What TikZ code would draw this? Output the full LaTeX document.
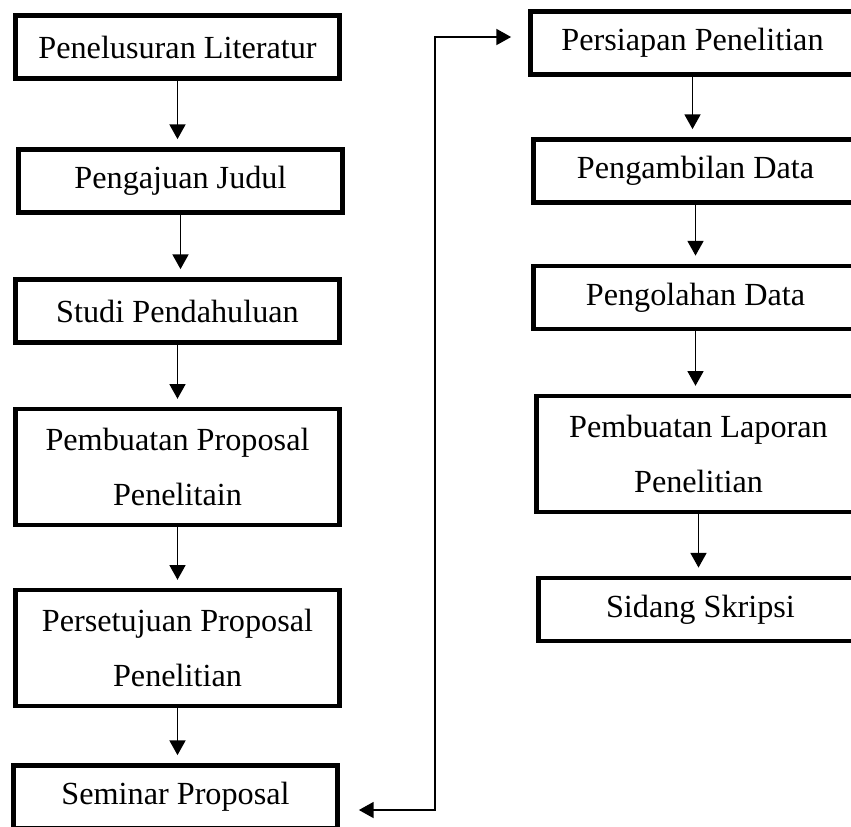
\documentclass[tikz,border=0pt]{standalone}
\usepackage{fontspec}
\setmainfont{Liberation Serif}
\usetikzlibrary{arrows.meta}

\begin{document}
\begin{tikzpicture}[x=0.03cm,y=-0.03cm,
  stepbox/.style={draw,line width=3.8pt,fill=white,minimum width=9.73cm,
    minimum height=1.9cm,align=center,inner sep=0pt,
    font=\fontsize{27.5}{47}\selectfont},
  tallbox/.style={stepbox,minimum height=3.48cm},
  flow/.style={line width=1.2pt,-{Triangle[length=0.44cm,width=0.48cm]},shorten >=0.24cm}]

  \useasboundingbox (0,0) rectangle (851,826);
  \clip (0,0) rectangle (851,826);

  \draw (177.5,47) node[stepbox] (b1) {Penelusuran Literatur};
\draw (180.5,181) node[stepbox] (b2) {Pengajuan Judul};
\draw (177.5,311) node[stepbox] (b3) {Studi Pendahuluan};
\draw (177.5,467) node[tallbox] (b4) {Pembuatan Proposal\\Penelitain};
\draw (177.5,648) node[tallbox] (b5) {Persetujuan Proposal\\Penelitian};
\draw (175.5,797) node[stepbox] (b6) {Seminar Proposal};

  \draw (692.5,43) node[stepbox] (r1) {Persiapan Penelitian};
\draw (695.5,171) node[stepbox] (r2) {Pengambilan Data};
\draw (695.5,297.5) node[stepbox] (r3) {Pengolahan Data};
\draw (698.5,454) node[tallbox] (r4) {Pembuatan Laporan\\Penelitian};
\draw (700.5,609.5) node[stepbox] (r5) {Sidang Skripsi};

  \draw[flow] (b1) -- (b1 |- b2.north);
  \draw[flow] (b2) -- (b2 |- b3.north);
  \draw[flow] (b3) -- (b3 |- b4.north);
  \draw[flow] (b4) -- (b4 |- b5.north);
  \draw[flow] (b5) -- (b5 |- b6.north);

  \draw[flow] (r1) -- (r1 |- r2.north);
  \draw[flow] (r2) -- (r2 |- r3.north);
  \draw[flow] (r3) -- (r3 |- r4.north);
  \draw[flow] (r4) -- (r4 |- r5.north);

  \coordinate (low) at (435,810);
  \coordinate (high) at (435,37);
  \draw[flow,{Triangle[length=0.44cm,width=0.48cm]}-{Triangle[length=0.44cm,width=0.48cm]},
    shorten <=0.57cm,shorten >=0.51cm] (b6.east |- low) -- (low) -- (high) -- (r1.west |- high);

\end{tikzpicture}
\end{document}
